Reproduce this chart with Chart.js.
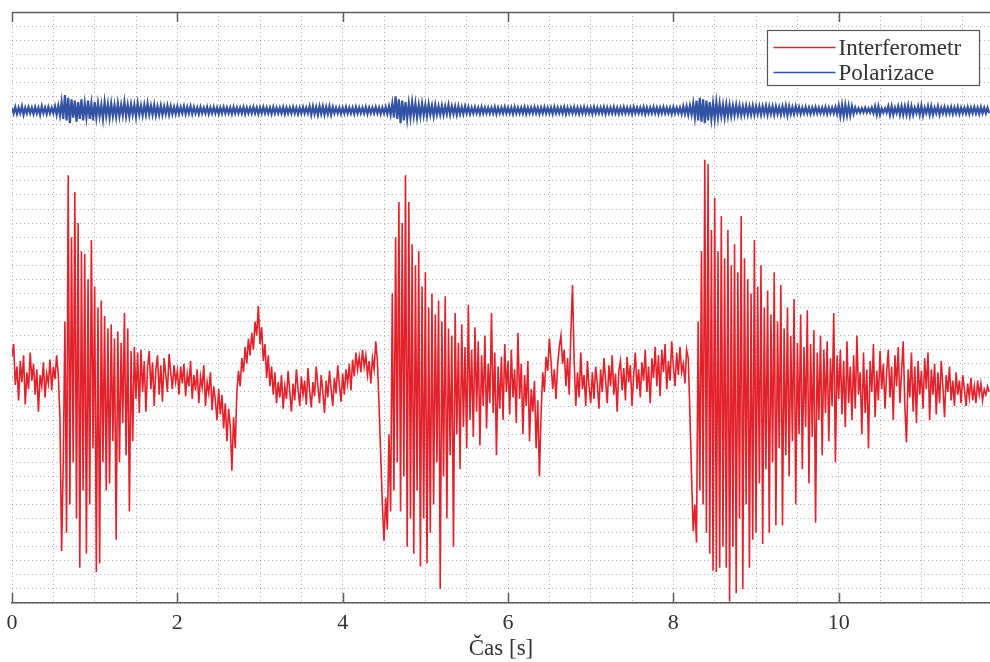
<!DOCTYPE html>
<html lang="cs">
<head>
<meta charset="utf-8">
<title>Interferometr a polarizace</title>
<script src="https://cdn.jsdelivr.net/npm/chart.js@4.4.1/dist/chart.umd.min.js"></script>
<style>
  html, body { margin: 0; padding: 0; background: #fff; }
  #wrap { width: 990px; height: 662px; }
</style>
</head>
<body>
<div id="wrap"><canvas id="graf" width="990" height="662"></canvas></div>
<script>
// vzorkovani 50 Hz (libovolne jednotky)
const dt = 0.02
const xMax = 11.83
const majorTicks = [0, 2, 4, 6, 8, 10]
const seriesLabels = ['Interferometr', 'Polarizace']
const xTitle = 'Čas [s]'

const interferometr = [
  1.5, 2.4, -0.5, 0.8, -1.6, 1.2, -0.3, 1.6, -1.9, 0.4,
  -0.8, 1.8, -0.2, 1.0, -1.2, 0.6, -2.4, 0.2, -0.6, 1.1,
  -1.4, 0.3, -0.4, 1.3, -0.9, 0.8, -0.1, 1.6, 0.2, -2.8,
  -12.3, -6, 4, -11, 14.4, -9, 10, -6, 13.2, -10,
  11, -13.5, 9, -8, 8.8, -12.5, 7, -9, 9.8, -5,
  6.5, -13.8, 5, -13.2, 5.5, -6, 4.4, -8, 3.5, -7.5,
  3.8, -4.5, 2.8, -11.5, 3.3, -6, 2.5, -3.2, 4.6, -5.5,
  3.5, -9.5, 1.9, -4.5, 2.2, -1.5, 1.8, -2.5, 2.0, -1.0,
  1.2, -2.4, 0.8, 1.9, -0.8, 1.1, -2.0, 0.6, 1.6, -1.2,
  0.9, -1.7, 1.4, 0.2, -1.0, 1.7, 0.4, -0.8, 0.9, -0.3,
  0.5, -1.2, 0.8, -0.4, 1.0, -1.3, 0.3, -0.6, 1.2, -1.5,
  0.2, -0.9, 0.6, -1.8, 0.1, -0.7, 0.9, -2.0, -0.3, -1.1,
  0.4, -2.3, -0.6, -1.6, -3.0, -0.8, -2.6, -1.2, -3.6, -1.8,
  -4.5, -2.2, -3.4, -6.6, -2.8, -5.0, -1.0, 0.5, -0.6, 1.4,
  0.4, 2.2, 1.0, 2.8, 1.6, 3.2, 2.0, 4.0, 3.0, 5.1,
  2.4, 3.6, 1.2, 2.4, 0.0, 1.6, -0.6, 0.8, -1.2, 0.4,
  -1.8, -0.3, -1.4, 0.2, -2.2, -0.6, -1.5, 0.5, -1.0, -2.4,
  -0.4, -1.6, 0.6, -0.8, -2.0, 0.1, -1.2, -0.2, -1.9, 0.7,
  -0.9, -2.1, -0.3, -1.3, 0.8, -0.6, -1.8, 0.2, -1.0, -2.5,
  -0.2, -1.4, 0.5, -0.8, -2.0, 0.0, -1.1, 0.9, -0.5, -1.7,
  0.3, -1.2, 0.6, -0.4, 1.0, -0.9, 1.3, 0.1, 1.8, 0.6,
  1.5, 0.4, 2.0, 0.8, 1.6, 0.2, 1.2, -0.4, 1.4, 0.6,
  2.6, 1.2, -2.0, -5.5, -9.0, -11.6, -8.5, -10.8, -4, -9.5,
  6, -8, 10, -6, 12.5, -9.5, 11, -7, 14.4, -12,
  12.5, -10, 9.5, -12.5, 8, -8, 9, -13.4, 6.5, -10,
  7.5, -13.2, 5, -11, 6, -9, 4.5, -6, 5.5, -15,
  4, -7, 5.8, -10, 3.5, -5.5, 3.0, -12, 4.6, -4.0,
  2.5, -6.5, 3.8, -3.5, 2.2, -5.0, 5.2, -3.0, 2.0, -4.2,
  3.6, -2.4, 2.6, -4.8, 1.6, -2.0, 3.0, -3.6, 1.0, -1.8,
  4.6, -2.5, 1.8, -5.5, 0.8, -2.2, 1.5, -3.0, 2.4, -1.0,
  1.2, -2.6, 2.0, -1.4, 0.6, -3.2, 3.2, -1.5, 1.0, -4.0,
  0.2, -2.0, 1.2, -4.5, -0.8, -2.4, -0.2, -5.0, -1.6, -7.0,
  -2.5, 0.4, -1.0, 1.5, 0.5, 2.8, 1.2, -0.8, 0.6, -1.5,
  0.9, 2.2, 3.0, 1.0, 2.0, -0.6, 1.4, -1.2, 3.2, 6.6,
  1.2, -2.0, 0.4, -1.4, 1.8, -0.8, 0.2, -2.0, 1.2, -0.6,
  -1.8, 0.4, -1.5, 0.8, -0.4, -2.2, 0.6, -1.0, 1.4, -0.2,
  -1.8, 0.9, -0.6, 1.6, -1.2, 0.3, -2.4, 0.5, 1.2, -0.9,
  0.7, -1.6, 1.5, -0.3, 0.9, -2.0, 0.2, 1.8, -0.8, 0.6,
  -1.4, 1.1, -0.2, 2.0, -1.0, 0.8, -1.8, 1.4, 0.0, 2.2,
  -0.6, 1.6, -1.3, 2.0, 0.4, 2.4, -0.8, 1.2, -0.2, 2.6,
  0.8, -0.6, 1.8, 0.2, 2.2, 0.4, 1.0, -0.4, 2.0, 1.4,
  -2.5, -7, -10.9, -9.0, -11.7, 4, -8, 9, -9, 15.5,
  -11, 15.2, -12.5, 10.5, -13.7, 12.8, -13.8, 9, -13.5, 11.5,
  -12, 8.5, -13.5, 10.5, -15.9, 8, -12, 9.5, -15.3, 7.5,
  -10, 11.5, -15, 8.5, -9, 7, -13.5, 6, -11.5, 9.8,
  -11, 6.5, -7.5, 8, -11.8, 5, -6.5, 6.2, -11, 4.5,
  -6, 7.5, -10.5, 4, -5, 6.6, -10.5, 3.5, -5.5, 5,
  -7, 3, -4.5, 5.6, -9.0, 2.5, -4, 4.5, -6.5, 2.2,
  -3.5, 4.8, -7.5, 2.4, -4.2, 3.4, -10.3, 1.8, -3, 3.0,
  -5.5, 2.0, -2.5, 2.6, -4.5, 1.4, -2, 4.6, -6.0, 1.6,
  -1.5, 2.0, -2.6, 1.2, -3.5, 2.6, -1.8, 0.8, -3.0, 1.6,
  -2.2, 3.0, -1.2, 0.4, -4.0, 1.8, -2.5, 0.6, -5.0, 1.2,
  -1.0, 2.4, -2.8, 0.5, -1.6, 1.9, -0.8, 1.0, -2.2, 0.4,
  2.0, -1.4, 0.8, -3.0, 1.6, -0.6, 2.2, -1.8, 0.4, 2.6,
  -2.0, -4.6, 0.6, -1.4, 1.8, -2.4, 0.8, -3.2, 1.2, -1.2,
  0.5, -2.2, 1.4, -0.8, 1.8, -3.0, 0.6, -1.2, 1.0, -2.6,
  0.4, -1.8, 1.2, -0.6, -2.8, 0.2, -1.0, 0.8, -1.6, -0.2,
  -2.0, 0.4, -1.2, -0.2, -1.8, 0.2, -0.8, -2.0, -0.4, -1.4,
  0.0, -1.6, -0.6, -1.8, -0.2, -1.2, -0.4, -1.6, -0.8, -1.2,
  -0.6, -1.0
]

const polarizace = [
  19.2, 18.8, 19.25, 18.75, 19.2, 18.8, 19.3, 18.7, 19.2, 18.8,
  19.25, 18.8, 19.2, 18.75, 19.25, 18.8, 19.2, 18.7, 19.3, 18.8,
  19.2, 18.75, 19.25, 18.8, 19.2, 18.8, 19.3, 18.7, 19.35, 18.65,
  19.6, 18.4, 20.1, 18.3, 19.9, 18.1, 19.8, 18.5, 19.7, 18.2,
  19.6, 18.4, 19.8, 18.3, 19.5, 18.5, 19.7, 18.4, 19.5, 18.3,
  19.6, 18.5, 19.5, 18.6, 19.4, 18.4, 19.6, 18.6, 19.45, 18.5,
  19.5, 18.6, 19.4, 18.55, 19.5, 18.6, 19.4, 18.65, 19.6, 18.6,
  19.4, 18.6, 19.45, 18.7, 19.4, 18.55, 19.5, 18.7, 19.35, 18.65,
  19.4, 18.7, 19.5, 18.7, 19.35, 18.7, 19.4, 18.65, 19.3, 18.7,
  19.35, 18.7, 19.3, 18.75, 19.35, 18.7, 19.3, 18.75, 19.25, 18.75,
  19.3, 18.75, 19.25, 18.8, 19.3, 18.75, 19.25, 18.8, 19.3, 18.75,
  19.25, 18.8, 19.2, 18.75, 19.25, 18.8, 19.2, 18.8, 19.25, 18.75,
  19.2, 18.8, 19.25, 18.8, 19.2, 18.75, 19.2, 18.8, 19.25, 18.8,
  19.2, 18.8, 19.2, 18.75, 19.25, 18.8, 19.2, 18.8, 19.2, 18.8,
  19.25, 18.75, 19.2, 18.8, 19.2, 18.8, 19.25, 18.8, 19.2, 18.75,
  19.2, 18.8, 19.25, 18.8, 19.2, 18.8, 19.2, 18.75, 19.25, 18.8,
  19.2, 18.8, 19.2, 18.8, 19.25, 18.75, 19.2, 18.8, 19.2, 18.8,
  19.25, 18.8, 19.2, 18.75, 19.2, 18.8, 19.25, 18.8, 19.2, 18.8,
  19.3, 18.7, 19.3, 18.75, 19.25, 18.7, 19.3, 18.75, 19.3, 18.7,
  19.25, 18.75, 19.3, 18.7, 19.25, 18.8, 19.2, 18.8, 19.2, 18.75,
  19.2, 18.8, 19.25, 18.8, 19.2, 18.8, 19.2, 18.75, 19.25, 18.8,
  19.2, 18.8, 19.2, 18.8, 19.25, 18.75, 19.2, 18.8, 19.2, 18.8,
  19.25, 18.8, 19.2, 18.75, 19.2, 18.8, 19.25, 18.75, 19.3, 18.7,
  19.5, 18.5, 20.0, 18.4, 19.8, 18.1, 19.7, 18.3, 19.6, 18.4,
  19.5, 18.5, 19.6, 18.6, 19.5, 18.5, 19.4, 18.6, 19.5, 18.65,
  19.4, 18.6, 19.45, 18.7, 19.35, 18.6, 19.4, 18.7, 19.3, 18.7,
  19.35, 18.7, 19.3, 18.75, 19.4, 18.7, 19.3, 18.75, 19.3, 18.7,
  19.3, 18.75, 19.25, 18.75, 19.3, 18.8, 19.25, 18.75, 19.2, 18.8,
  19.25, 18.8, 19.2, 18.75, 19.25, 18.8, 19.2, 18.8, 19.2, 18.8,
  19.2, 18.8, 19.25, 18.75, 19.2, 18.8, 19.2, 18.8, 19.25, 18.8,
  19.2, 18.8, 19.2, 18.75, 19.25, 18.8, 19.2, 18.8, 19.2, 18.8,
  19.25, 18.75, 19.2, 18.8, 19.2, 18.8, 19.25, 18.8, 19.2, 18.75,
  19.2, 18.8, 19.25, 18.8, 19.2, 18.8, 19.2, 18.75, 19.25, 18.8,
  19.2, 18.8, 19.2, 18.8, 19.25, 18.75, 19.2, 18.8, 19.2, 18.8,
  19.25, 18.8, 19.2, 18.75, 19.2, 18.8, 19.25, 18.8, 19.2, 18.8,
  19.2, 18.75, 19.25, 18.8, 19.2, 18.8, 19.2, 18.8, 19.25, 18.75,
  19.2, 18.8, 19.2, 18.8, 19.25, 18.8, 19.2, 18.75, 19.2, 18.8,
  19.25, 18.8, 19.2, 18.8, 19.2, 18.75, 19.25, 18.8, 19.2, 18.8,
  19.2, 18.8, 19.25, 18.75, 19.2, 18.8, 19.2, 18.8, 19.25, 18.8,
  19.2, 18.75, 19.2, 18.8, 19.25, 18.8, 19.2, 18.8, 19.2, 18.75,
  19.25, 18.8, 19.2, 18.8, 19.2, 18.75, 19.3, 18.75, 19.3, 18.7,
  19.35, 18.7, 19.5, 18.5, 19.7, 18.3, 19.9, 18.2, 19.8, 18.1,
  19.7, 18.3, 19.6, 18.4, 19.5, 18.4, 19.6, 18.5, 19.5, 18.6,
  19.4, 18.5, 19.45, 18.6, 19.4, 18.6, 19.35, 18.65, 19.4, 18.7,
  19.35, 18.65, 19.3, 18.7, 19.35, 18.7, 19.3, 18.7, 19.35, 18.7,
  19.3, 18.75, 19.3, 18.7, 19.3, 18.75, 19.35, 18.7, 19.3, 18.75,
  19.3, 18.7, 19.3, 18.75, 19.25, 18.7, 19.3, 18.75, 19.35, 18.65,
  19.3, 18.75, 19.25, 18.75, 19.3, 18.8, 19.25, 18.75, 19.2, 18.8,
  19.25, 18.8, 19.2, 18.75, 19.2, 18.8, 19.25, 18.8, 19.2, 18.8,
  19.2, 18.8, 19.25, 18.75, 19.2, 18.8, 19.2, 18.8, 19.25, 18.75,
  19.35, 18.6, 19.4, 18.6, 19.4, 18.65, 19.35, 18.65, 19.3, 18.75,
  19.2, 18.85, 19.15, 18.85, 19.15, 18.85, 19.2, 18.85, 19.15, 18.85,
  19.2, 18.8, 19.3, 18.7, 19.3, 18.7, 19.15, 18.85, 19.15, 18.85,
  19.3, 18.7, 19.3, 18.7, 19.2, 18.8, 19.3, 18.7, 19.3, 18.7,
  19.3, 18.7, 19.35, 18.65, 19.3, 18.7, 19.2, 18.8, 19.3, 18.7,
  19.35, 18.65, 19.2, 18.8, 19.3, 18.7, 19.3, 18.7, 19.2, 18.8,
  19.3, 18.7, 19.2, 18.8, 19.25, 18.75, 19.2, 18.8, 19.25, 18.75,
  19.2, 18.8, 19.25, 18.75, 19.2, 18.8, 19.2, 18.8, 19.25, 18.75,
  19.2, 18.8, 19.25, 18.8, 19.2, 18.75, 19.25, 18.8, 19.2, 18.8,
  19.2, 18.8
]

const red = '#e3212a'
const blue = '#3352a3'
const fontFam = '"Liberation Serif", "DejaVu Serif", serif'
const textCol = '#333333'
const gridCol = 'rgba(0,0,0,0.3)'

// casova osa ze vzorkovaci periody
const toPoints = arr => arr.map((v, i) => ({ x: +(i * dt).toFixed(2), y: v }))

const frame = {
  id: 'frame',
  afterDatasetsDraw(chart) {
    const { ctx, chartArea: a, scales } = chart
    const x = scales.x
    ctx.save()
    ctx.setLineDash([])
    ctx.strokeStyle = '#5e5e5e'
    ctx.lineWidth = 1.5
    ctx.beginPath()
    ctx.moveTo(a.left, a.top + 0.5)
    ctx.lineTo(a.right, a.top + 0.5)
    majorTicks.forEach(v => {
      const px = Math.round(x.getPixelForValue(v)) + 0.5
      ctx.moveTo(px, a.top)
      ctx.lineTo(px, a.top + 10)
      ctx.moveTo(px, a.bottom)
      ctx.lineTo(px, a.bottom - 10)
    })
    ctx.stroke()

    // legenda v pravem hornim rohu
    ctx.font = '23px ' + fontFam
    const ds = chart.data.datasets
    const textW = Math.max(...ds.map(d => ctx.measureText(d.label).width))
    const lineLen = 62
    const w = Math.round(6 + lineLen + 3 + textW + 18)
    const h = 55
    const bx = Math.round(a.right - 11 - w) + 0.5
    const by = a.top + 18.5
    ctx.fillStyle = '#fff'
    ctx.fillRect(bx, by, w, h)
    ctx.strokeStyle = '#555'
    ctx.lineWidth = 1.2
    ctx.strokeRect(bx, by, w, h)
    ds.forEach((d, i) => {
      const cy = by + 17 + i * 25
      ctx.strokeStyle = d.borderColor
      ctx.lineWidth = 1.5
      ctx.beginPath()
      ctx.moveTo(bx + 6, cy)
      ctx.lineTo(bx + 6 + lineLen, cy)
      ctx.stroke()
      ctx.fillStyle = textCol
      ctx.textBaseline = 'middle'
      ctx.fillText(d.label, bx + 6 + lineLen + 3, cy + 1)
    })
    ctx.restore()
  }
}

new Chart(document.getElementById('graf'), {
  type: 'line',
  data: {
    datasets: [
      { label: seriesLabels[0], data: toPoints(interferometr), borderColor: red, borderWidth: 1.6 },
      { label: seriesLabels[1], data: toPoints(polarizace), borderColor: blue, borderWidth: 2.2 }
    ]
  },
  options: {
    responsive: false,
    animation: false,
    events: [],
    elements: { point: { radius: 0 }, line: { tension: 0, fill: false } },
    layout: { padding: { left: 12, top: 12, right: 0, bottom: 2 } },
    plugins: { legend: { display: false }, tooltip: { enabled: false } },
    scales: {
      x: {
        type: 'linear',
        min: 0,
        max: xMax,
        afterFit: s => { s.paddingLeft = 0; s.paddingRight = 0 },
        border: { display: true, color: '#5e5e5e', width: 1.5, dash: [1, 3] },
        grid: { color: gridCol, lineWidth: 1, drawTicks: false },
        ticks: {
          stepSize: 0.5,
          autoSkip: false,
          maxRotation: 0,
          includeBounds: false,
          padding: 9,
          color: textCol,
          font: { family: fontFam, size: 22, lineHeight: 1 },
          callback: v => majorTicks.includes(v) ? String(v) : ''
        },
        title: {
          display: true,
          text: xTitle,
          color: textCol,
          font: { family: fontFam, size: 23, lineHeight: 1 },
          padding: { top: -6, bottom: 0 }
        }
      },
      y: {
        min: -16,
        max: 26,
        afterFit: s => { s.width = 0 },
        border: { display: false, dash: [1, 3] },
        grid: { color: gridCol, lineWidth: 1, drawTicks: false },
        ticks: { display: false, stepSize: 1 }
      }
    }
  },
  plugins: [frame]
})
</script>
</body>
</html>
